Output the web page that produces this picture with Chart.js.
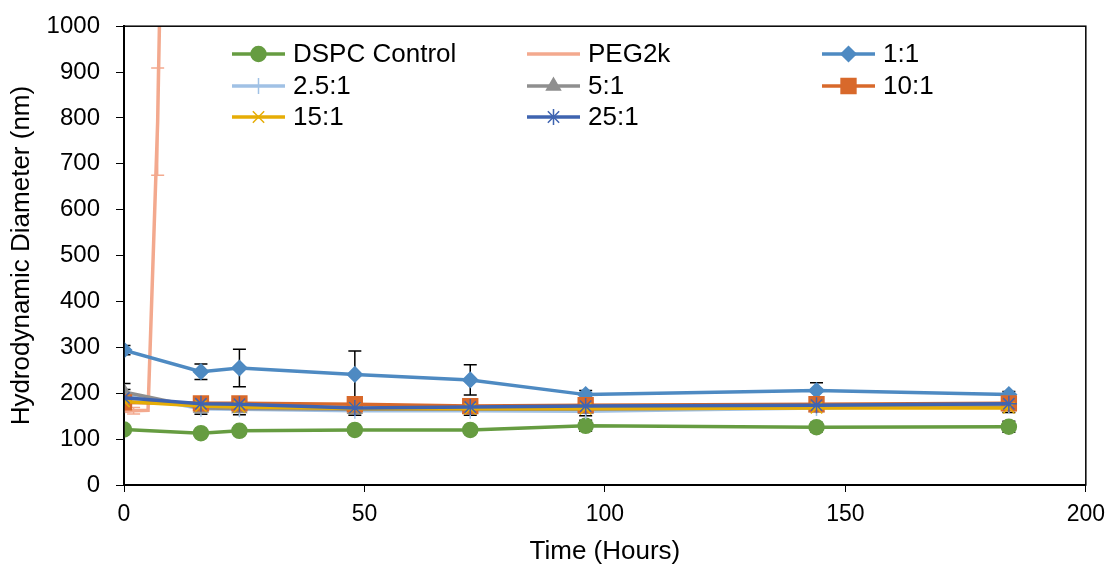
<!DOCTYPE html>
<html>
<head>
<meta charset="utf-8">
<script src="https://cdn.jsdelivr.net/npm/chart.js@4.4.1/dist/chart.umd.min.js"></script>
<style>
    html, body { margin: 0; padding: 0; background: #fff; }
    #wrap { width: 1114px; height: 567px; }
</style>
</head>
<body>
<div id="wrap"><canvas id="grafico" width="1114" height="567"></canvas></div>
<script>
// Dados
const tempos = [0, 16, 24, 48, 72, 96, 144, 184];

const dspc = [121, 113, 118, 120, 120, 129, 126, 127];
const dspcErro = [5, 5, 5, 5, 5, 12, 10, 12];

const pegTempos = [0, 2, 5, 7, 24];
const peg2k = [160, 162, 163, 792, 10500];
const pegErro = [0, 7, 0, 117, 0];

const r1 = [294, 247, 255, 241, 229, 197, 206, 197];
const r1Erro = [10, 17, 41, 51, 33, 9, 17, 7];
const r25 = [198, 166, 165, 162, 162, 161, 168, 172];
const r25Erro = [10, 12, 12, 10, 10, 10, 8, 8];
const r5 = [203, 168, 167, 165, 165, 165, 169, 172];
const r5Erro = [18, 8, 8, 8, 8, 8, 8, 8];
const r10 = [180, 178, 178, 176, 172, 174, 176, 178];
const r10Erro = [8, 6, 6, 6, 6, 6, 6, 6];
const r15 = [182, 172, 170, 167, 166, 166, 168, 168];
const r15Erro = [6, 6, 6, 6, 6, 6, 6, 10];
const r25x = [190, 177, 176, 168, 170, 172, 174, 177];
const r25xErro = [8, 6, 6, 6, 6, 6, 6, 6];

const nomes = ['DSPC Control', 'PEG2k', '1:1', '2.5:1', '5:1', '10:1', '15:1', '25:1'];
const xTicks = [0, 50, 100, 150, 200];
const yTicks = [0, 100, 200, 300, 400, 500, 600, 700, 800, 900, 1000];

const FONTE = '"Liberation Sans", Arial, sans-serif';

function pontos(xs, ys) {
    return xs.map((x, i) => ({ x: x, y: ys[i] }));
}

function serie(nome, xs, ys, erros, cor, estilo, raio, extra) {
    return Object.assign({
        label: nome,
        data: pontos(xs, ys),
        erros: erros,
        corErro: '#000',
        borderColor: cor,
        backgroundColor: cor,
        pointBackgroundColor: cor,
        pointBorderColor: cor,
        pointBorderWidth: 1.5,
        pointStyle: estilo,
        pointRadius: raio,
        borderWidth: 3.5,
        showLine: true,
        tension: 0
    }, extra || {});
}

const series = [
    serie(nomes[0], tempos, dspc, dspcErro, '#669c41', 'circle', 7.5),
    serie(nomes[1], pegTempos, peg2k, pegErro, '#f3a98e', 'circle', 0, { corErro: '#f3a98e' }),
    serie(nomes[2], tempos, r1, r1Erro, '#4e8ac2', 'rectRot', 7.5),
    serie(nomes[3], tempos, r25, r25Erro, '#a0c1e5', 'cross', 8),
    serie(nomes[4], tempos, r5, r5Erro, '#8f8f8f', 'triangle', 8),
    serie(nomes[5], tempos, r10, r10Erro, '#d8692b', 'rect', 10.5),
    serie(nomes[6], tempos, r15, r15Erro, '#e6ad06', 'crossRot', 8),
    serie(nomes[7], tempos, r25x, r25xErro, '#3f64b0', 'star', 8)
];
// ultima serie fica por cima, como no Excel
series.forEach((s, i) => { s.order = series.length - i; });

// Barras de erro (desenhadas antes das series)
const barrasErro = {
    id: 'barrasErro',
    beforeDatasetsDraw(chart) {
        const ctx = chart.ctx;
        const area = chart.chartArea;
        const sx = chart.scales.x, sy = chart.scales.y;
        ctx.save();
        ctx.beginPath();
        ctx.rect(area.left, area.top, area.right - area.left, area.bottom - area.top);
        ctx.clip();
        chart.data.datasets.forEach(ds => {
            if (!ds.erros) return;
            ctx.strokeStyle = ds.corErro;
            ctx.lineWidth = 1.5;
            ds.data.forEach((p, i) => {
                const e = ds.erros[i];
                if (!e) return;
                const px = sx.getPixelForValue(p.x);
                const yTop = sy.getPixelForValue(p.y + e);
                const yBot = sy.getPixelForValue(p.y - e);
                ctx.beginPath();
                ctx.moveTo(px, yTop); ctx.lineTo(px, yBot);
                ctx.moveTo(px - 6.5, yTop); ctx.lineTo(px + 6.5, yTop);
                ctx.moveTo(px - 6.5, yBot); ctx.lineTo(px + 6.5, yBot);
                ctx.stroke();
            });
        });
        ctx.restore();
    }
};

// Moldura + legenda em grade dentro da area do grafico
const legendaGrade = {
    id: 'legendaGrade',
    afterDraw(chart) {
        const ctx = chart.ctx;
        const a = chart.chartArea;
        ctx.save();
        ctx.strokeStyle = '#000';
        ctx.lineWidth = 1.5;
        ctx.strokeRect(a.left, a.top, a.right - a.left, a.bottom - a.top);

        const colX = [232, 527, 822];
        const linY = [54, 86, 117];
        ctx.font = '26px ' + FONTE;
        ctx.textBaseline = 'middle';
        ctx.textAlign = 'left';
        chart.data.datasets.forEach((ds, i) => {
            const x0 = colX[i % 3];
            const y0 = linY[Math.floor(i / 3)];
            ctx.strokeStyle = ds.borderColor;
            ctx.lineWidth = 3.5;
            ctx.beginPath();
            ctx.moveTo(x0, y0);
            ctx.lineTo(x0 + 53, y0);
            ctx.stroke();
            if (ds.pointRadius > 0 && Chart.helpers && Chart.helpers.drawPoint) {
                ctx.fillStyle = ds.pointBackgroundColor;
                ctx.strokeStyle = ds.pointBorderColor;
                ctx.lineWidth = ds.pointBorderWidth;
                Chart.helpers.drawPoint(ctx, {
                    pointStyle: ds.pointStyle,
                    radius: ds.pointRadius,
                    rotation: 0,
                    borderWidth: ds.pointBorderWidth
                }, x0 + 26.5, y0);
            }
            ctx.fillStyle = '#000';
            ctx.fillText(ds.label, x0 + 61, y0 + 1);
        });
        ctx.restore();
    }
};

new Chart(document.getElementById('grafico').getContext('2d'), {
    type: 'scatter',
    data: { datasets: series },
    options: {
        responsive: false,
        animation: false,
        events: [],
        layout: { padding: { top: 23, right: 20, bottom: 0, left: 0 } },
        plugins: {
            legend: { display: false },
            tooltip: { enabled: false }
        },
        scales: {
            x: {
                type: 'linear',
                min: 0,
                max: 200,
                afterBuildTicks: (s) => { s.ticks = xTicks.map(v => ({ value: v })); },
                afterFit: (s) => { s.height = 82; },
                border: { display: true, color: '#000', width: 2 },
                grid: { drawOnChartArea: false, drawTicks: true, tickLength: 7, color: '#000', lineWidth: 1 },
                ticks: { color: '#000', padding: 9, font: { family: FONTE, size: 23 }, maxRotation: 0,
                         callback: (v) => String(v) },
                title: { display: true, text: 'Time (Hours)', color: '#000', padding: { top: 0, bottom: 0 }, font: { family: FONTE, size: 26 } }
            },
            y: {
                type: 'linear',
                min: 0,
                max: 1000,
                afterBuildTicks: (s) => { s.ticks = yTicks.map(v => ({ value: v })); },
                afterFit: (s) => { s.width = 124; },
                border: { display: true, color: '#000', width: 2 },
                grid: { drawOnChartArea: false, drawTicks: true, tickLength: 8, color: '#000', lineWidth: 1 },
                ticks: { color: '#000', padding: 16, font: { family: FONTE, size: 24, lineHeight: 0.85 },
                         callback: (v) => String(v) },
                title: { display: true, text: 'Hydrodynamic Diameter (nm)', color: '#000', padding: { top: 6, bottom: 0 }, font: { family: FONTE, size: 26 } }
            }
        }
    },
    plugins: [barrasErro, legendaGrade]
});
</script>
</body>
</html>
